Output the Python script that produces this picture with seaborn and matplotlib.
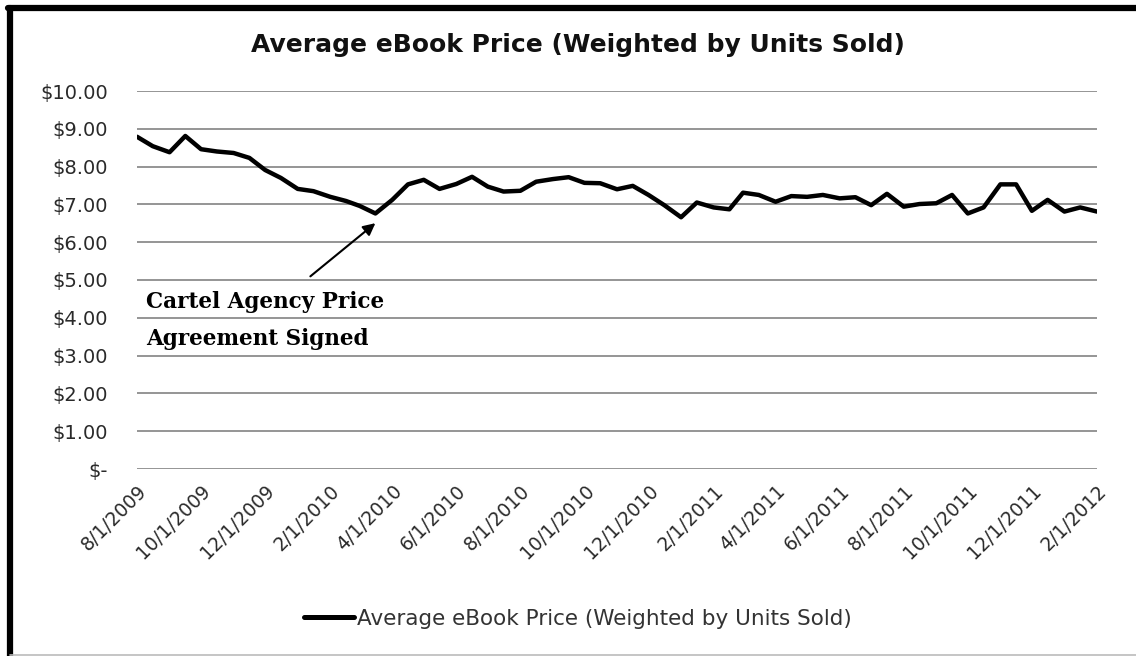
import pandas as pd
import numpy as np
import matplotlib
matplotlib.use('Agg')
import matplotlib.pyplot as plt
from matplotlib.lines import Line2D
import seaborn as sns

# semi-monthly points, 8/1/2009 .. 2/1/2012
months = pd.date_range('2009-08-01', '2012-02-01', freq='MS')
dates = []
for m in months:
    dates.append(m)
    if m < months[-1]:
        dates.append(m + pd.Timedelta(days=15))

prices = [
    8.79, 8.54, 8.38, 8.81, 8.46, 8.40, 8.36, 8.23, 7.91, 7.70,
    7.41, 7.35, 7.20, 7.09, 6.96, 6.76, 7.12, 7.53, 7.65, 7.41,
    7.54, 7.73, 7.47, 7.34, 7.36, 7.60, 7.67, 7.72, 7.57, 7.56,
    7.40, 7.49, 7.25, 6.98, 6.66, 7.05, 6.92, 6.87, 7.31, 7.25,
    7.07, 7.22, 7.20, 7.25, 7.16, 7.19, 6.98, 7.28, 6.94, 7.01,
    7.03, 7.25, 6.76, 6.92, 7.53, 7.53, 6.83, 7.12, 6.81, 6.92,
    6.81,
]
series_name = 'Average eBook Price (Weighted by Units Sold)'
title = 'Average eBook Price (Weighted by Units Sold)'
note = 'Cartel Agency Price\nAgreement Signed'

df = pd.DataFrame({'date': dates, 'price': prices})

sns.set_style('white')
plt.rcParams['font.family'] = ['DejaVu Sans']

fig = plt.figure(figsize=(11.36, 6.56), dpi=100)
ax = fig.add_axes([137 / 1136, 1 - 469 / 656, 960 / 1136, 378 / 656])

sns.lineplot(data=df, x='date', y='price', ax=ax, color='black', linewidth=3.2,
             label=series_name, legend=False)

ax.set_ylim(0, 10)
ax.set_xlim(pd.Timestamp('2009-08-01'), pd.Timestamp('2012-02-01'))
ax.set_yticks(np.arange(0, 11, 1))
ax.set_yticklabels(['$-'] + [f'${v:.2f}' for v in range(1, 11)])
ax.grid(axis='y', color='#8c8c8c', linewidth=1.3)
ax.grid(axis='x', visible=False)
for s in ax.spines.values():
    s.set_visible(False)

tick_dates = pd.date_range('2009-08-01', '2012-02-01', freq='2MS')
ax.set_xticks(tick_dates)
ax.set_xticklabels([f'{d.month}/{d.day}/{d.year}' for d in tick_dates],
                   rotation=45, ha='right', rotation_mode='anchor')
ax.tick_params(axis='both', labelsize=13.5, colors='#2a2a2a', length=0, pad=9)
ax.tick_params(axis='y', labelsize=14, pad=21)
ax.set_xlabel('')
ax.set_ylabel('')

fig.text(0.509, 1 - 45 / 656, title, ha='center', va='center',
         fontsize=18, fontweight='bold', color='#111111')

# annotation arrow + text
ax.annotate('', xy=(pd.Timestamp('2010-03-18'), 6.55),
            xytext=(pd.Timestamp('2010-01-11'), 5.05),
            arrowprops=dict(arrowstyle='-|>', color='black', lw=1.5,
                            mutation_scale=18))
ax.text(pd.Timestamp('2009-08-10'), 3.92, note, family='DejaVu Serif',
        fontweight='bold', fontsize=15.5, ha='left', va='center',
        linespacing=1.9, color='black')

fig.legend(handles=[Line2D([0], [0], color='black', lw=3.6)], labels=[series_name],
           loc='center', bbox_to_anchor=(0.509, 1 - 619 / 656), frameon=False,
           fontsize=15.5, handlelength=2.3, handletextpad=0.15, labelcolor='#333333')

# outer frame (heavy top/left, light bottom)
fig.add_artist(Line2D([0.007, 1.0], [1 - 8 / 656] * 2, color='black', lw=4.5,
                      transform=fig.transFigure))
fig.add_artist(Line2D([10 / 1136] * 2, [0.0, 1 - 8 / 656], color='black', lw=4.5,
                      transform=fig.transFigure))
fig.add_artist(Line2D([10 / 1136, 1.0], [1 / 656] * 2, color='#bbbbbb', lw=1.2,
                      transform=fig.transFigure))

fig.savefig('out.png', dpi=100, facecolor='white')
